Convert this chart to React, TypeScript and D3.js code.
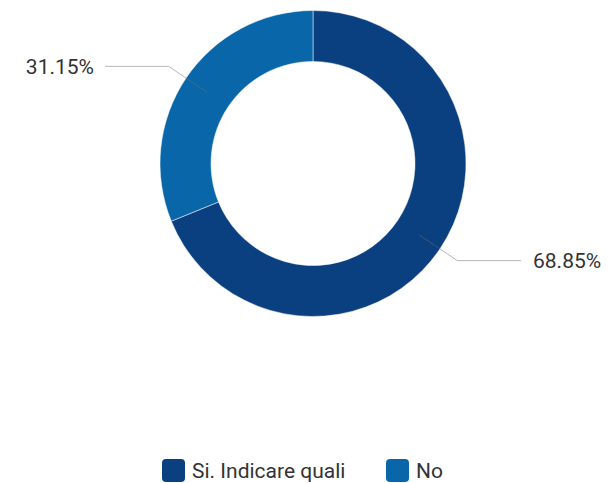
import { useEffect, useRef } from 'react';
import * as d3 from 'd3';

const categories = ['Si. Indicare quali', 'No'];
const values = [68.85, 31.15];
const colors = ['#0a3f80', '#0967a9'];

const WIDTH = 613;
const HEIGHT = 483;
const CX = 313;
const CY = 163.5;
const OUTER = 153;
const INNER = 102;

export default function App() {
  const ref = useRef<SVGSVGElement>(null);

  useEffect(() => {
    const svg = d3.select(ref.current);
    svg.selectAll('*').remove();

    const rows = categories.map((name, i) => ({ name, value: values[i], color: colors[i] }));

    const pie = d3
      .pie<{ name: string; value: number; color: string }>()
      .sort(null)
      .value((d) => d.value);
    const arcs = pie(rows);

    const arcGen = d3
      .arc<d3.PieArcDatum<{ name: string; value: number; color: string }>>()
      .innerRadius(INNER)
      .outerRadius(OUTER);

    const g = svg.append('g').attr('transform', `translate(${CX},${CY})`);

    g.selectAll('path.slice')
      .data(arcs)
      .enter()
      .append('path')
      .attr('class', 'slice')
      .attr('d', arcGen)
      .attr('fill', (d) => d.data.color)
      .attr('stroke', '#fff')
      .attr('stroke-width', 0.5);

    // leader lines + labels
    const midR = (INNER + OUTER) / 2;
    const elbowR = 174;
    const lineEnd = 208;
    arcs.forEach((d) => {
      const a = (d.startAngle + d.endAngle) / 2;
      const right = Math.sin(a) >= 0;
      const p1: [number, number] = [midR * Math.sin(a), -midR * Math.cos(a)];
      const p2: [number, number] = [elbowR * Math.sin(a), -elbowR * Math.cos(a)];
      const p3: [number, number] = [right ? lineEnd : -lineEnd, p2[1]];

      g.append('path')
        .attr('d', d3.line()([p1, p2, p3]))
        .attr('fill', 'none')
        .attr('stroke', '#6f6f6f')
        .attr('stroke-opacity', 0.5)
        .attr('stroke-width', 1);

      g.append('text')
        .attr('x', right ? lineEnd + 12 : -lineEnd - 11)
        .attr('y', p3[1])
        .attr('dy', '0.36em')
        .attr('text-anchor', right ? 'start' : 'end')
        .attr('font-family', 'Roboto, sans-serif')
        .attr('font-size', 21)
        .attr('fill', '#333')
        .text(`${d.data.value.toFixed(2)}%`);
    });

    // legend
    const legendX = [162, 386];
    const legend = svg
      .selectAll('g.legend')
      .data(rows)
      .enter()
      .append('g')
      .attr('class', 'legend')
      .attr('transform', (_, i) => `translate(${legendX[i]},459)`);

    legend
      .append('rect')
      .attr('width', 23)
      .attr('height', 23)
      .attr('rx', 4)
      .attr('fill', (d) => d.color);

    legend
      .append('text')
      .attr('x', 30)
      .attr('y', 11.5)
      .attr('dy', '0.36em')
      .attr('font-family', 'Roboto, sans-serif')
      .attr('font-size', 21)
      .attr('fill', '#333')
      .text((d) => d.name);
  }, []);

  return (
    <svg
      ref={ref}
      width={WIDTH}
      height={HEIGHT}
      style={{ position: 'absolute', left: 0, top: 0, background: '#fff' }}
    />
  );
}
